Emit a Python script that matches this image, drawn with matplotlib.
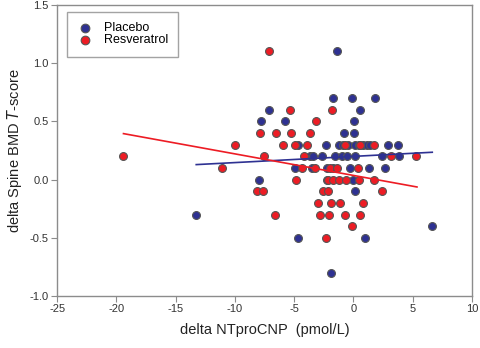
import matplotlib.pyplot as plt

plt.rcParams['font.family'] = ['Liberation Sans', 'DejaVu Sans']
plt.rcParams['axes.unicode_minus'] = False

# Placebo points (delta NTproCNP, delta spine BMD T-score)
placebo_x = [-1.4, -1.75, -0.15, 1.85, -7.1, 0.6, -7.8, -5.75, 0.05, -0.75, 0.05,
             -4.7, -2.3, -1.25, -0.9, -0.45, 0.15, 0.45, 0.85, 1.15, 1.4, 2.95, 3.8,
             -3.7, -3.37, -2.66, -1.54, -0.98, -0.5, 0.14, 2.39, 3.88,
             -4.9, -3.46, -2.25, -1.74, -0.25, 1.3, 2.7,
             -7.93, -2.25, 0.0,
             0.15, -13.24, 6.6, -4.66, 1.0, -1.85]
placebo_y = [1.1, 0.7, 0.7, 0.7, 0.6, 0.6, 0.5, 0.5, 0.5, 0.4, 0.4,
             0.3, 0.3, 0.3, 0.3, 0.3, 0.3, 0.3, 0.3, 0.3, 0.3, 0.3, 0.3,
             0.2, 0.2, 0.2, 0.2, 0.2, 0.2, 0.2, 0.2, 0.2,
             0.1, 0.1, 0.1, 0.1, 0.1, 0.1, 0.1,
             0.0, 0.0, 0.0,
             -0.1, -0.3, -0.4, -0.5, -0.5, -0.8]

# Resveratrol points
resv_x = [-7.15, -5.35, -1.77, -3.17,
          -7.9, -6.5, -5.28, -3.65,
          -10.0, -5.9, -4.9, -3.95, -0.7, 0.56, 1.72,
          -19.4, -7.55, -4.2, 3.15, 5.3,
          -11.05, -4.35, -3.25, -1.96, -1.4, 0.42,
          -4.86, -2.1, -1.68, -1.18, -0.64, 0.48, 1.72,
          -8.1, -7.6, -2.6, -2.15, 2.4,
          -3.0, -1.9, -1.15, 0.8,
          -6.6, -2.85, -2.05, -0.7, 0.6,
          -0.15, -2.3]
resv_y = [1.1, 0.6, 0.6, 0.5,
          0.4, 0.4, 0.4, 0.4,
          0.3, 0.3, 0.3, 0.3, 0.3, 0.3, 0.3,
          0.2, 0.2, 0.2, 0.2, 0.2,
          0.1, 0.1, 0.1, 0.1, 0.1, 0.1,
          0.0, 0.0, 0.0, 0.0, 0.0, 0.0, 0.0,
          -0.1, -0.1, -0.1, -0.1, -0.1,
          -0.2, -0.2, -0.2, -0.2,
          -0.3, -0.3, -0.3, -0.3, -0.3,
          -0.4, -0.5]

# regression line end points
placebo_fit_x = [-13.26, 6.66]
placebo_fit_y = [0.129, 0.235]
resv_fit_x = [-19.4, 5.37]
resv_fit_y = [0.395, -0.063]

BLUE = "#2e3192"
RED = "#ed1c24"
EDGE = "#555555"

fig = plt.figure(figsize=(4.8, 3.48), dpi=100)
ax = fig.add_axes([0.119, 0.149, 0.864, 0.837])

ax.scatter(placebo_x, placebo_y, s=32, color=BLUE, edgecolors=EDGE, linewidths=0.8,
           label="Placebo", zorder=3)
ax.scatter(resv_x, resv_y, s=32, color=RED, edgecolors=EDGE, linewidths=0.8,
           label="Resveratrol", zorder=3)
ax.plot(placebo_fit_x, placebo_fit_y, color=BLUE, linewidth=1.2, zorder=4)
ax.plot(resv_fit_x, resv_fit_y, color=RED, linewidth=1.2, zorder=4)

ax.set_xlim(-25, 10)
ax.set_ylim(-1.0, 1.5)
ax.set_xticks(range(-25, 11, 5))
ax.set_yticks([-1.0, -0.5, 0.0, 0.5, 1.0, 1.5])
ax.set_yticklabels(["-1.0", "-0.5", "0.0", "0.5", "1.0", "1.5"])

for sp in ax.spines.values():
    sp.set_color("#8c8c8c")
    sp.set_linewidth(1.0)
ax.tick_params(direction="out", length=4, width=0.8, color="#8c8c8c",
               labelsize=8, labelcolor="#333333", pad=2)

ax.set_xlabel("delta NTproCNP  (pmol/L)", fontsize=10.5, color="#222222", labelpad=6)
ax.set_ylabel("delta Spine BMD $\\mathit{T}$-score", fontsize=10.5, color="#222222", labelpad=4)

leg = ax.legend(loc="upper left", bbox_to_anchor=(0.023, 0.976), fontsize=9,
                frameon=True, fancybox=False, borderpad=0.85, handletextpad=0.9,
                labelspacing=0.0, handlelength=1.2, borderaxespad=0, markerscale=1.1)
leg.get_frame().set_edgecolor("#8c8c8c")
leg.get_frame().set_linewidth(1.0)

fig.savefig("out.png", dpi=100)
